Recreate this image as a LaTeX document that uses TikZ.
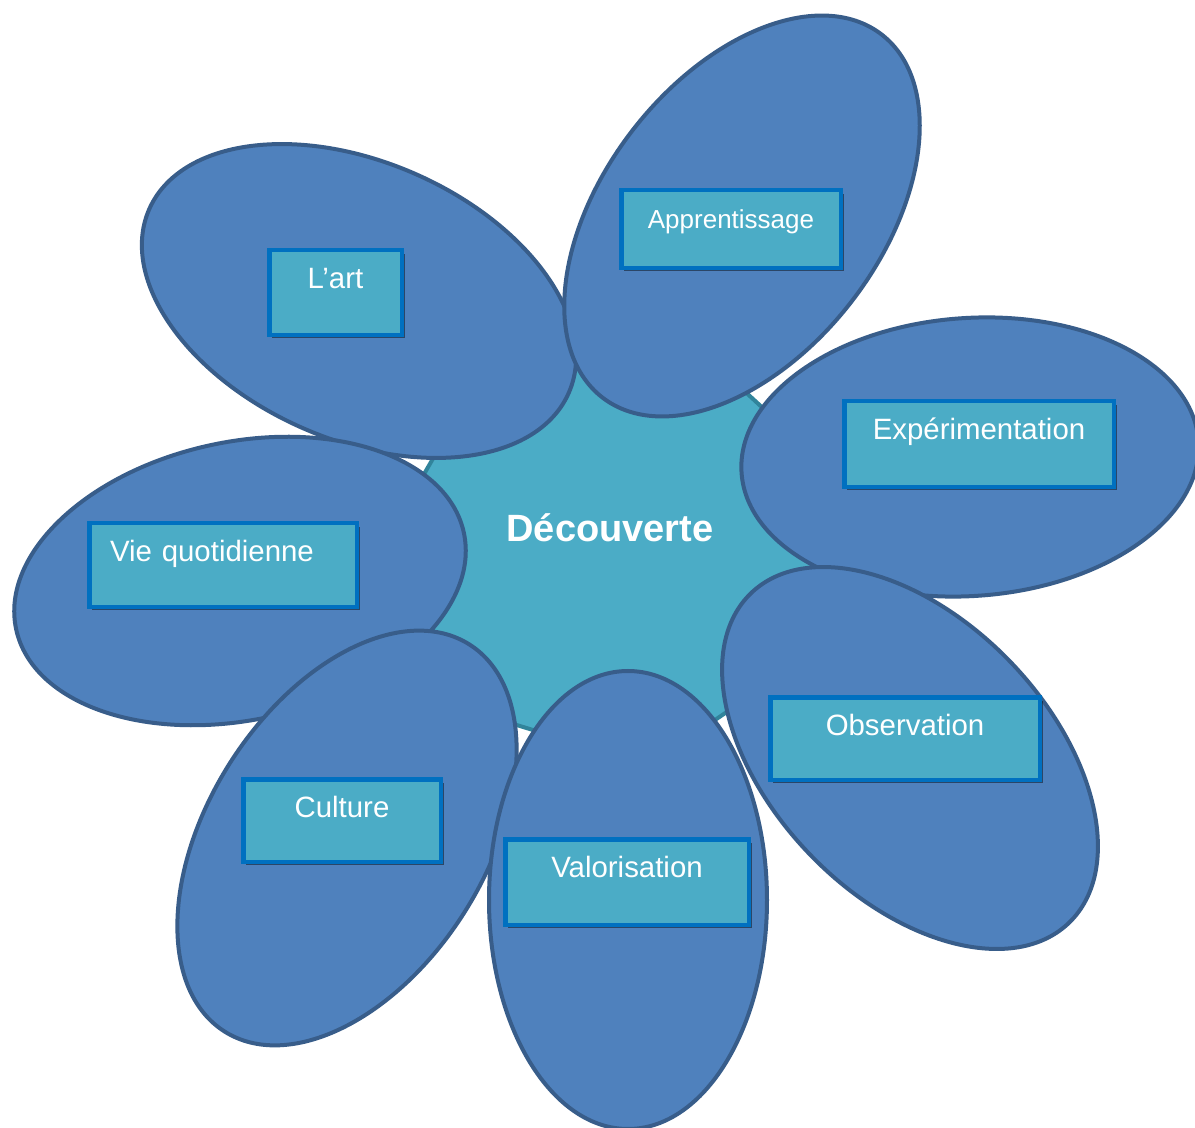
\documentclass[tikz,border=0pt]{standalone}
\usepackage{fontspec}
\setmainfont{Liberation Sans}
\usepackage{xcolor}
\definecolor{dcvpetal}{HTML}{4F81BD}
\definecolor{dcvpetalline}{HTML}{385D8A}
\definecolor{dcvteal}{HTML}{4BACC6}
\definecolor{dcvtealline}{HTML}{31849B}
\definecolor{dcvblue}{HTML}{0070C0}
\usepackage{tikz}
\usetikzlibrary{shapes.geometric,shadows}
\tikzset{
  dcvpetal/.style={ellipse,draw=dcvpetalline,fill=dcvpetal,line width=2pt,inner sep=0pt,minimum width=229pt,minimum height=139pt},
  dcvhub/.style={regular polygon,regular polygon sides=7,draw=dcvtealline,fill=dcvteal,line width=2pt,inner sep=0pt,minimum size=223pt,shape border rotate=-17},
  dcvtitle/.style={font=\fontsize{19}{22}\selectfont\bfseries,text=white,inner sep=0pt},
  dcvbox/.style={rectangle,draw=dcvblue,fill=dcvteal,line width=2.25pt,inner sep=0pt,anchor=north west,text height=18.9pt,text depth=23pt,font=\fontsize{14.7}{17}\selectfont,text=white,drop shadow={shadow xshift=1.5pt,shadow yshift=-1.8pt,fill=black,opacity=0.45}},
}
\begin{document}
\begin{tikzpicture}[x=0.5pt,y=-0.5pt]
\useasboundingbox[fill=white] (0,0) rectangle (1195,1128);
\node[dcvhub] (hub) at (615,545) {};
\node[dcvpetal,rotate=-23.6] (lart) at (359,301) {};
\node[dcvpetal,rotate=52.5] (appr) at (742,216) {};
\node[dcvpetal,rotate=4] (expe) at (970,457) {};
\node[dcvpetal,rotate=-46] (obse) at (910,758) {};
\node[dcvpetal,rotate=12.2] (vieq) at (240,581) {};
\node[dcvpetal,rotate=57.7] (cult) at (347,838) {};
\node[dcvpetal,rotate=90] (valo) at (628,900) {};
\node[dcvtitle,anchor=base] (title) at (610,542) {Découverte};
\node[dcvbox,minimum width=66.25pt,text depth=23.4pt] (tart) at (267,248) {L’art};
\node[dcvbox,minimum width=109.75pt,text depth=19.9pt,font=\fontsize{13}{15}\selectfont] (tapp) at (619,188) {Apprentissage};
\node[dcvbox,minimum width=134.75pt,text depth=23.9pt] (texp) at (842,399) {Expérimentation};
\node[dcvbox,align=left,text width=113pt,inner xsep=10.4pt,text depth=22.9pt] (tvie) at (87,521) {Vie quotidienne};
\node[dcvbox,minimum width=134.75pt,text depth=22.4pt] (tobs) at (768,695) {Observation};
\node[dcvbox,minimum width=98.75pt,text depth=22.4pt] (tcul) at (241,777) {Culture};
\node[dcvbox,minimum width=121.75pt,text depth=23.9pt] (tval) at (503,837) {Valorisation};
\end{tikzpicture}
\end{document}
